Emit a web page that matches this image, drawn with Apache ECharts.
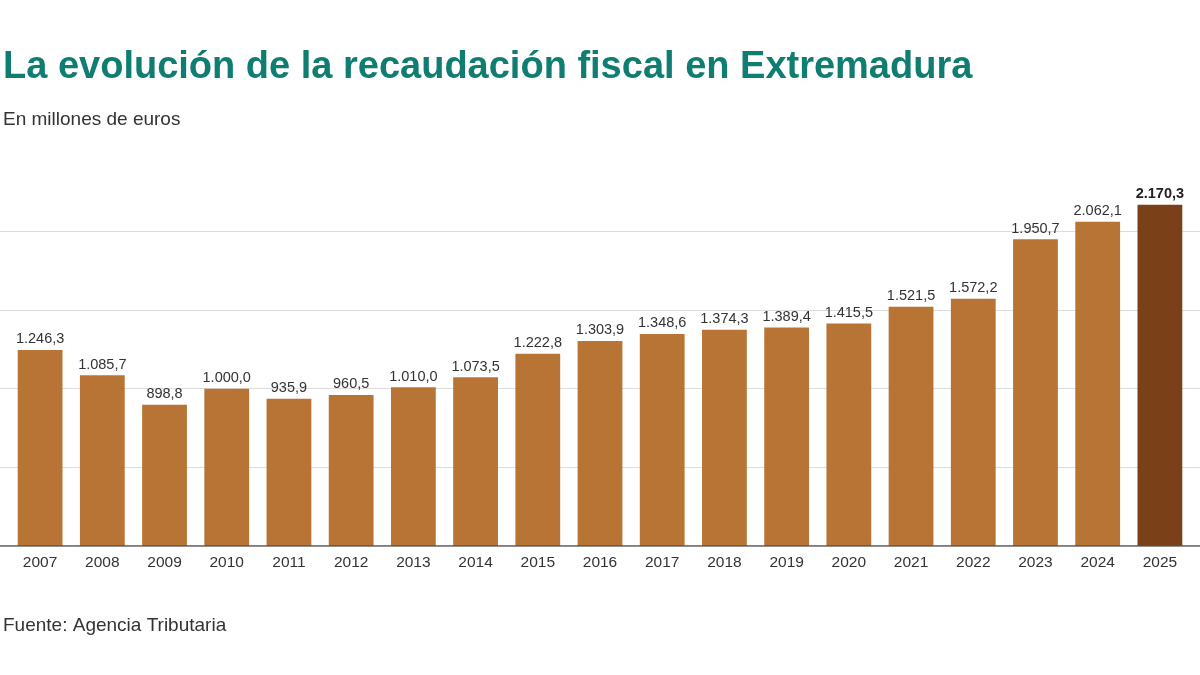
<!DOCTYPE html>
<html>
<head>
<meta charset="utf-8">
<script src="https://cdn.jsdelivr.net/npm/echarts@6/dist/echarts.min.js"></script>
<style>
  html, body { margin: 0; padding: 0; background: #fff; }
  #chart { width: 1200px; height: 675px; }
</style>
</head>
<body>
<div id="chart"></div>
<script>
const years = ['2007', '2008', '2009', '2010', '2011', '2012', '2013', '2014', '2015', '2016',
  '2017', '2018', '2019', '2020', '2021', '2022', '2023', '2024', '2025'];
const recaudacion = [1246.3, 1085.7, 898.8, 1000.0, 935.9, 960.5, 1010.0, 1073.5, 1222.8, 1303.9,
  1348.6, 1374.3, 1389.4, 1415.5, 1521.5, 1572.2, 1950.7, 2062.1, 2170.3];

const BAR = '#b87434';
const BAR_LAST = '#7a4119';
const FONT = '"Liberation Sans", Arial, sans-serif';

// 1.246,3 style
function fmt(v) {
  const parts = v.toFixed(1).split('.');
  parts[0] = parts[0].replace(/\B(?=(\d{3})+(?!\d))/g, '.');
  return parts.join(',');
}

const last = years.length - 1;
const chart = echarts.init(document.getElementById('chart'));

chart.setOption({
  backgroundColor: '#fff',
  animation: false,
  title: [
    {
      text: 'La evolución de la recaudación fiscal en Extremadura',
      left: -2, top: 44,
      textStyle: { color: '#0f7d72', fontSize: 38, fontWeight: 'bold', fontFamily: FONT }
    },
    {
      text: 'En millones de euros',
      left: -2, top: 105,
      textStyle: { color: '#333', fontSize: 19, fontWeight: 'normal', fontFamily: FONT }
    },
    {
      text: 'Fuente: Agencia Tributaria',
      left: -2, top: 611,
      textStyle: { color: '#333', fontSize: 19, fontWeight: 'normal', fontFamily: FONT }
    }
  ],
  grid: [
    // full-width grid only for the gridlines and baseline
    { left: 0, right: 0, top: 200, bottom: 129 },
    { left: 9, right: 9, top: 200, bottom: 129 }
  ],
  xAxis: [
    {
      gridIndex: 0, type: 'value', min: 0, max: 1, show: false
    },
    {
      gridIndex: 1, type: 'category', data: years,
      axisLine: { show: false },
      axisTick: { show: false },
      axisLabel: {
        interval: 0,
        color: '#333', fontSize: 15.5, fontFamily: FONT, margin: 9
      }
    }
  ],
  yAxis: [
    {
      gridIndex: 0, type: 'value', min: 0, max: 2200, interval: 500,
      axisLabel: { show: false },
      axisTick: { show: false },
      axisLine: { show: false },
      splitLine: { show: true, showMaxLine: false, lineStyle: { color: '#dcdcdc', width: 1 } }
    },
    {
      gridIndex: 1, type: 'value', min: 0, max: 2200, interval: 500, show: false
    }
  ],
  series: [
    {
      type: 'line',
      xAxisIndex: 0, yAxisIndex: 0,
      data: [[0, 0], [1, 0]],
      symbol: 'none',
      lineStyle: { color: '#555', width: 1.5 },
      z: 5
    },
    {
      type: 'bar',
      xAxisIndex: 1, yAxisIndex: 1,
      barCategoryGap: '28%',
      data: recaudacion.map((v, i) => ({
        value: v,
        itemStyle: { color: i === last ? BAR_LAST : BAR },
        label: i === last ? { fontWeight: 'bold', color: '#222' } : {}
      })),
      label: {
        show: true, position: 'top', distance: 3,
        color: '#333', fontSize: 14.5, fontFamily: FONT,
        formatter: p => fmt(p.value)
      },
      z: 2
    }
  ]
});
</script>
</body>
</html>
